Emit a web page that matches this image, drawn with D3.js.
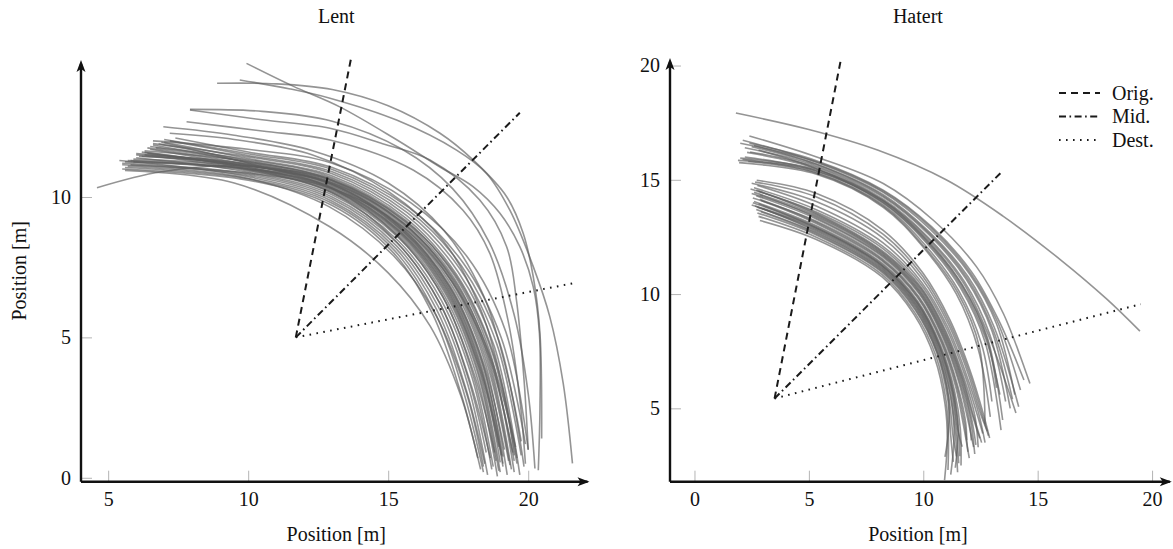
<!DOCTYPE html>
<html>
<head>
<meta charset="utf-8">
<script src="https://cdn.jsdelivr.net/npm/d3@7"></script>
<style>
    body { margin: 0; background: #fff; }
    svg text { font-family: "Liberation Serif", "DejaVu Serif", serif; fill: #111; }
</style>
</head>
<body>
<div id="chart"></div>
<script>
//---------------- data ----------------
const panelTitles = ["Lent", "Hatert"];
const axisLabel = "Position [m]";
const legendLabels = ["Orig.", "Mid.", "Dest."];

const lentTicksX = [5, 10, 15, 20];
const lentTicksY = [0, 5, 10];
const hatertTicksX = [0, 5, 10, 15, 20];
const hatertTicksY = [5, 10, 15, 20];

// rays from the fitted centre: orig, mid, dest
const lentRays = [
    [[11.7, 5.0], [13.67, 14.92]],
    [[11.7, 5.0], [19.7, 13.0]],
    [[11.7, 5.0], [21.67, 6.94]]
];
const hatertRays = [
    [[3.5, 5.43], [6.42, 20.37]],
    [[3.5, 5.43], [13.44, 15.36]],
    [[3.5, 5.43], [19.51, 9.56]]
];

// trajectories, Lent
const lentPaths = [
    [[4.6, 10.33], [6.9, 10.9], [10, 11.1], [13, 10.45], [15.5, 8.85], [17.2, 6.8], [18.4, 4.0], [19.1, 0.5]],
    [[5.6, 10.95], [9.5, 10.5], [12.9, 8.95], [15.0, 7.3], [16.5, 5.4], [17.6, 2.9], [18.2, 0.7]],
    [[5.7, 11.1], [9.8, 10.7], [12.9, 9.65], [15.2, 7.9], [16.7, 5.8], [17.8, 3.0], [18.4, 0.4]],
    [[5.5, 11.0], [10, 10.6], [13, 9.7], [15.2, 8.0], [16.6, 5.8], [17.6, 3.0], [18.3, 0.3]],
    [[5.6, 11.05], [10, 10.65], [13, 9.78], [15.23, 8.09], [16.66, 5.9], [17.68, 3.1], [18.4, 0.2]],
    [[5.4, 11.3], [10, 10.72], [13, 9.85], [15.26, 8.18], [16.72, 6.01], [17.76, 3.22], [18.45, 0.5]],
    [[5.8, 11.15], [10, 10.77], [13, 9.93], [15.29, 8.27], [16.78, 6.11], [17.84, 3.33], [18.55, 0.1]],
    [[5.5, 11.2], [10, 10.82], [13, 10.0], [15.32, 8.36], [16.84, 6.22], [17.92, 3.44], [18.65, 0.7]],
    [[6.0, 11.4], [10, 10.88], [13, 10.08], [15.35, 8.45], [16.9, 6.32], [18.0, 3.55], [18.7, 0.3]],
    [[5.7, 11.3], [10, 10.93], [13, 10.15], [15.38, 8.54], [16.96, 6.43], [18.08, 3.66], [18.8, 0.9]],
    [[6.3, 11.5], [10, 10.96], [13, 10.2], [15.4, 8.6], [17.0, 6.5], [18.13, 3.73], [18.9, 0.05]],
    [[5.9, 11.25], [10, 10.99], [13, 10.24], [15.42, 8.65], [17.04, 6.56], [18.18, 3.79], [18.85, 0.6]],
    [[6.2, 11.6], [10, 11.04], [13, 10.3], [15.44, 8.72], [17.08, 6.64], [18.24, 3.88], [19.0, 0.2]],
    [[6.5, 11.7], [10, 11.07], [13, 10.35], [15.46, 8.77], [17.12, 6.7], [18.28, 3.94], [19.05, 0.8]],
    [[6.1, 11.45], [10, 11.11], [13, 10.39], [15.48, 8.83], [17.16, 6.76], [18.32, 4.0], [19.1, 0.4]],
    [[6.4, 11.75], [10, 11.15], [13, 10.45], [15.5, 8.9], [17.2, 6.85], [18.4, 4.1], [19.15, 1.0]],
    [[6.0, 11.5], [10, 11.18], [13, 10.5], [15.52, 8.95], [17.24, 6.9], [18.44, 4.17], [19.25, 0.1]],
    [[6.6, 11.85], [10, 11.22], [13, 10.54], [15.54, 9.0], [17.28, 6.96], [18.48, 4.23], [19.3, 0.6]],
    [[6.3, 11.65], [10, 11.26], [13, 10.6], [15.56, 9.08], [17.32, 7.04], [18.56, 4.32], [19.4, 0.3]],
    [[6.8, 11.9], [10, 11.29], [13, 10.64], [15.58, 9.13], [17.36, 7.1], [18.6, 4.39], [19.45, 0.9]],
    [[6.5, 11.8], [10, 11.33], [13, 10.69], [15.6, 9.19], [17.4, 7.16], [18.64, 4.45], [19.5, 0.2]],
    [[7.0, 11.95], [10, 11.37], [13, 10.75], [15.62, 9.26], [17.44, 7.24], [18.72, 4.54], [19.6, 0.7]],
    [[6.6, 11.9], [10, 11.43], [13, 10.83], [15.65, 9.35], [17.5, 7.33], [18.8, 4.65], [19.7, 0.1]],
    [[7.2, 12.0], [10, 11.48], [13, 10.9], [15.68, 9.44], [17.56, 7.44], [18.88, 4.76], [19.75, 0.8]],
    [[7.0, 12.05], [10, 11.54], [13, 10.98], [15.71, 9.53], [17.62, 7.54], [18.96, 4.87], [19.85, 0.4]],
    [[7.4, 12.1], [10, 11.6], [13, 11.05], [15.74, 9.62], [17.68, 7.65], [19.04, 4.98], [19.9, 1.2]],
    [[6.6, 12.0], [10, 11.7], [13, 11.2], [15.8, 9.8], [17.8, 7.9], [19.2, 5.2], [20.0, 1.0]],
    [[5.5, 11.15], [10, 10.85], [13, 10.3], [15.5, 8.95], [17.3, 6.95], [18.6, 4.3], [19.5, 0.6]],
    [[6.9, 11.95], [10, 11.2], [13, 10.3], [15.35, 8.6], [16.95, 6.45], [18.05, 3.6], [18.75, 0.4]],
    [[5.6, 11.25], [10, 11.0], [13, 10.5], [15.55, 9.05], [17.35, 7.05], [18.62, 4.4], [19.55, 1.1]],
    [[6.4, 11.55], [10, 11.0], [13, 10.15], [15.3, 8.4], [16.85, 6.2], [17.9, 3.4], [18.5, 0.9]],
    [[5.9, 11.35], [10, 11.1], [13, 10.6], [15.6, 9.15], [17.42, 7.2], [18.7, 4.5], [19.6, 0.5]],
    [[6.2, 11.45], [10, 11.12], [13, 10.42], [15.47, 8.82], [17.15, 6.72], [18.3, 3.95], [19.0, 0.55]],
    [[5.8, 11.3], [10, 11.0], [13, 10.28], [15.43, 8.7], [17.06, 6.6], [18.2, 3.85], [18.95, 0.25]],
    [[6.7, 11.75], [10, 11.25], [13, 10.58], [15.55, 9.05], [17.3, 7.0], [18.52, 4.28], [19.35, 0.45]],
    [[6.0, 11.55], [10, 11.15], [13, 10.47], [15.5, 8.88], [17.18, 6.8], [18.36, 4.05], [19.1, 0.75]],
    [[6.3, 11.6], [10, 11.05], [13, 10.33], [15.45, 8.75], [17.1, 6.68], [18.26, 3.9], [18.95, 1.1]],
    [[8.89, 14.05], [11.0, 14.03], [13.0, 13.83], [15.0, 13.25], [16.85, 12.27], [18.03, 11.32], [19.23, 10.01], [19.82, 8.71], [20.18, 7.16], [20.42, 5.14], [20.48, 1.4]],
    [[9.7, 14.17], [11.5, 13.85], [12.92, 13.52], [15.3, 12.74], [17.44, 11.67], [18.51, 10.84], [19.35, 9.52], [20.18, 7.52], [20.77, 5.74], [21.25, 3.36], [21.58, 0.51]],
    [[9.94, 14.76], [11.6, 13.95], [13.27, 13.21], [15.2, 12.1], [16.85, 11.07], [18.03, 10.37], [18.99, 9.42], [19.7, 8.23], [20.18, 6.8], [20.4, 5.15], [20.42, 2.5], [20.36, 0.27]],
    [[7.92, 13.12], [10.5, 13.05], [13.0, 12.7], [15.5, 11.7], [17.3, 10.3], [18.6, 8.4], [19.5, 5.8], [20.0, 3.0], [20.24, 0.33]],
    [[7.92, 13.1], [10.5, 12.75], [12.92, 12.45], [14.8, 11.9], [16.49, 11.32], [18.27, 9.89], [19.23, 8.23], [19.58, 6.33], [19.85, 3.5], [20.0, 1.0]],
    [[7.8, 12.68], [10.5, 12.35], [12.92, 12.03], [15.89, 10.96], [17.67, 9.53], [18.63, 7.99], [19.3, 5.5], [19.7, 2.8], [19.9, 0.5]],
    [[6.97, 12.5], [9.5, 12.2], [12.3, 11.65], [15.0, 10.5], [17.0, 8.8], [18.4, 6.5], [19.3, 3.5], [19.75, 1.3]],
    [[7.2, 12.27], [9.5, 12.05], [12.3, 11.5], [15.0, 10.2], [17.0, 8.4], [18.3, 6.0], [19.1, 3.2], [19.5, 0.8]]
];

// trajectories, Hatert
const hatertPaths = [
    [[1.81, 17.92], [5.0, 17.2], [8.0, 16.3], [11.0, 15.0], [13.5, 13.4], [16.0, 11.5], [18.0, 9.8], [19.47, 8.38]],
    [[1.95, 15.75], [5.3, 15.25], [8.25, 13.8], [10.0, 12.05], [11.45, 10.0], [12.4, 7.6], [12.93, 4.63]],
    [[2.1, 15.9], [5.3, 15.33], [8.25, 13.9], [10.05, 12.18], [11.55, 10.15], [12.55, 7.8], [13.0, 5.3]],
    [[1.9, 15.85], [5.3, 15.4], [8.25, 13.98], [10.1, 12.28], [11.62, 10.28], [12.7, 7.9], [13.4, 4.05]],
    [[2.3, 16.2], [5.3, 15.5], [8.25, 14.08], [10.15, 12.4], [11.7, 10.42], [12.8, 8.1], [13.47, 4.49]],
    [[2.43, 16.22], [5.3, 15.56], [8.25, 14.15], [10.2, 12.5], [11.8, 10.54], [12.9, 8.25], [13.6, 5.3]],
    [[2.2, 16.4], [5.3, 15.62], [8.25, 14.25], [10.25, 12.6], [11.88, 10.65], [13.0, 8.4], [13.8, 5.0]],
    [[2.6, 16.5], [5.3, 15.7], [8.25, 14.35], [10.28, 12.7], [11.96, 10.76], [13.1, 8.55], [14.17, 5.07]],
    [[2.11, 16.73], [5.3, 15.78], [8.25, 14.45], [10.32, 12.82], [12.04, 10.86], [13.2, 8.7], [14.0, 5.6]],
    [[2.4, 16.6], [5.3, 15.85], [8.25, 14.55], [10.36, 12.95], [12.12, 10.96], [13.3, 8.85], [14.4, 6.24]],
    [[2.4, 16.92], [5.34, 16.0], [8.25, 14.84], [10.44, 13.23], [12.33, 11.19], [13.5, 9.15], [14.66, 6.09]],
    [[2.8, 16.3], [5.3, 15.5], [8.25, 14.0], [10.1, 12.35], [11.65, 10.35], [12.75, 8.0], [13.35, 5.6]],
    [[2.0, 15.95], [5.3, 15.45], [8.25, 14.1], [10.18, 12.45], [11.75, 10.5], [12.85, 8.2], [14.05, 4.8]],
    [[2.2, 16.0], [5.3, 15.4], [8.25, 14.05], [10.12, 12.38], [11.68, 10.4], [12.78, 8.05], [13.2, 5.9]],
    [[2.5, 16.45], [5.3, 15.68], [8.25, 14.3], [10.27, 12.65], [11.92, 10.7], [13.05, 8.45], [13.9, 5.4]],
    [[2.0, 16.6], [5.3, 15.8], [8.25, 14.5], [10.34, 12.9], [12.08, 10.9], [13.25, 8.78], [14.25, 5.8]],
    [[2.35, 15.8], [5.3, 15.3], [8.25, 13.85], [10.02, 12.1], [11.5, 10.08], [12.45, 7.7], [12.7, 4.3]],
    [[2.86, 13.22], [5.3, 12.4], [8.2, 10.75], [9.6, 9.1], [10.5, 7.2], [10.95, 5.2], [11.05, 3.6], [10.93, 1.86]],
    [[2.8, 13.4], [5.3, 12.5], [8.2, 10.85], [9.62, 9.2], [10.55, 7.3], [11.0, 5.3], [11.1, 3.7], [11.08, 2.3]],
    [[2.75, 13.55], [5.3, 12.6], [8.2, 10.95], [9.65, 9.3], [10.6, 7.4], [11.07, 5.4], [11.2, 3.8], [11.31, 2.66]],
    [[2.7, 13.7], [5.3, 12.7], [8.2, 11.05], [9.68, 9.4], [10.63, 7.45], [11.1, 5.5], [11.1, 4.0], [10.95, 2.88]],
    [[2.65, 13.85], [5.3, 12.8], [8.2, 11.15], [9.7, 9.5], [10.68, 7.55], [11.2, 5.6], [11.4, 3.9], [11.5, 2.2]],
    [[2.8, 13.95], [5.3, 12.9], [8.2, 11.25], [9.72, 9.6], [10.72, 7.65], [11.28, 5.7], [11.5, 4.1], [11.7, 3.32]],
    [[2.6, 14.05], [5.3, 13.0], [8.2, 11.35], [9.75, 9.7], [10.76, 7.75], [11.36, 5.8], [11.62, 4.1], [11.65, 2.5]],
    [[2.9, 14.1], [5.3, 13.1], [8.2, 11.45], [9.78, 9.8], [10.8, 7.85], [11.43, 5.9], [11.75, 4.3], [12.01, 2.82]],
    [[2.55, 14.2], [5.3, 13.2], [8.2, 11.55], [9.8, 9.9], [10.84, 7.95], [11.5, 6.0], [11.85, 4.4], [11.9, 3.6]],
    [[2.7, 14.3], [5.3, 13.3], [8.2, 11.65], [9.83, 10.0], [10.88, 8.05], [11.57, 6.1], [11.95, 4.5], [12.2, 3.3]],
    [[2.5, 14.4], [5.3, 13.4], [8.2, 11.75], [9.85, 10.1], [10.92, 8.15], [11.64, 6.2], [12.05, 4.6], [12.25, 3.0]],
    [[2.8, 14.5], [5.3, 13.5], [8.2, 11.85], [9.88, 10.2], [10.96, 8.25], [11.7, 6.3], [12.15, 4.7], [12.47, 3.69]],
    [[2.45, 14.6], [5.3, 13.6], [8.22, 12.0], [9.9, 10.3], [11.0, 8.35], [11.77, 6.35], [12.25, 4.7], [12.4, 3.3]],
    [[2.6, 14.65], [5.3, 13.7], [8.22, 12.1], [9.92, 10.4], [11.04, 8.45], [11.83, 6.42], [12.35, 4.75], [12.6, 3.9]],
    [[2.75, 14.75], [5.32, 13.85], [8.23, 12.25], [9.94, 10.5], [11.07, 8.55], [11.88, 6.48], [12.42, 4.78], [12.7, 3.5]],
    [[2.5, 14.85], [5.32, 14.05], [8.24, 12.45], [9.96, 10.65], [11.11, 8.66], [11.95, 6.55], [12.5, 4.78], [12.8, 4.0]],
    [[2.65, 14.9], [5.33, 14.25], [8.24, 12.62], [9.98, 10.78], [11.14, 8.76], [12.0, 6.6], [12.56, 4.78], [12.85, 3.8]],
    [[2.72, 14.98], [5.34, 14.4], [8.25, 12.79], [10.0, 10.9], [11.17, 8.86], [12.04, 6.67], [12.62, 4.78], [12.9, 3.7]],
    [[2.9, 13.6], [5.3, 12.65], [8.2, 11.0], [9.66, 9.35], [10.62, 7.42], [11.12, 5.45], [11.3, 3.8], [11.45, 2.9]],
    [[2.55, 14.0], [5.3, 12.95], [8.2, 11.3], [9.74, 9.65], [10.74, 7.7], [11.32, 5.75], [11.55, 4.0], [11.6, 2.9]],
    [[2.85, 14.35], [5.3, 13.35], [8.2, 11.7], [9.84, 10.05], [10.9, 8.1], [11.6, 6.15], [12.0, 4.5], [12.1, 3.6]],
    [[2.75, 13.8], [5.3, 12.85], [8.2, 11.2], [9.7, 9.55], [10.7, 7.6], [11.25, 5.65], [11.45, 4.0], [11.55, 2.6]],
    [[2.6, 14.45], [5.3, 13.45], [8.2, 11.8], [9.86, 10.15], [10.94, 8.2], [11.67, 6.25], [12.1, 4.6], [12.3, 3.4]],
    [[2.85, 14.15], [5.3, 13.15], [8.2, 11.5], [9.79, 9.85], [10.82, 7.9], [11.47, 5.95], [11.8, 4.35], [11.95, 3.1]],
    [[2.5, 13.9], [5.3, 12.9], [8.2, 11.25], [9.73, 9.62], [10.73, 7.67], [11.3, 5.72], [11.52, 4.05], [11.4, 2.4]],
    [[2.7, 14.55], [5.3, 13.55], [8.2, 11.9], [9.89, 10.25], [10.98, 8.3], [11.73, 6.32], [12.2, 4.65], [12.55, 3.5]],
    [[2.95, 13.75], [5.3, 12.75], [8.2, 11.1], [9.69, 9.45], [10.66, 7.5], [11.18, 5.55], [11.35, 3.9], [11.2, 2.1]]
];

//---------------- layout ----------------
const complete_width = 1173, complete_height = 549;
const fontSize = 20;
const rayDash = ["7,5", "7,3.5,1.6,3.5", "1.6,5.4"];

const svg = d3.select("#chart")
    .append("svg")
    .attr("width", complete_width)
    .attr("height", complete_height);

const panels = [
    {
        title: panelTitles[0], paths: lentPaths, rays: lentRays, ticksX: lentTicksX, ticksY: lentTicksY,
        x: d3.scaleLinear().domain([4.03, 22.26]).range([81, 591.5]),
        y: d3.scaleLinear().domain([-0.14, 14.88]).range([481.7, 60]),
        ylabel: true
    },
    {
        title: panelTitles[1], paths: hatertPaths, rays: hatertRays, ticksX: hatertTicksX, ticksY: hatertTicksY,
        x: d3.scaleLinear().domain([-1.07, 20.95]).range([670, 1173.8]),
        y: d3.scaleLinear().domain([1.79, 20.33]).range([481.7, 58]),
        ylabel: false
    }
];

//stealth-like arrow head, tip at origin pointing up
const arrowHead = "M0,0 L4.5,12 L0,9 L-4.5,12 Z";

panels.forEach((p, i) => {
    const g = svg.append("g");
    const [x0, x1] = p.x.range();
    const [y0, y1] = p.y.range();
    const line = d3.line()
        .x(d => p.x(d[0]))
        .y(d => p.y(d[1]))
        .curve(d3.curveCatmullRom.alpha(0.5));

    //axes (ticks pointing inward)
    const xAxis = g.append("g")
        .attr("transform", `translate(0,${y0})`)
        .call(d3.axisBottom(p.x).tickValues(p.ticksX).tickSize(-11).tickPadding(10));
    const yAxis = g.append("g")
        .attr("transform", `translate(${x0},0)`)
        .call(d3.axisLeft(p.y).tickValues(p.ticksY).tickSize(-11).tickPadding(10));
    [xAxis, yAxis].forEach(a => {
        a.select(".domain").remove();
        a.selectAll(".tick line").attr("stroke", "#b4b4b4").attr("stroke-width", 1);
        a.selectAll(".tick text")
            .style("font-family", "'Liberation Serif', serif")
            .style("font-size", fontSize + "px")
            .attr("fill", "#111");
    });

    //trajectories
    g.append("g")
        .selectAll("path")
        .data(p.paths)
        .join("path")
        .attr("d", line)
        .attr("fill", "none")
        .attr("stroke", "#5c5c5c")
        .attr("stroke-opacity", 0.66)
        .attr("stroke-width", 1.6);

    //orig / mid / dest rays
    g.append("g")
        .selectAll("path")
        .data(p.rays)
        .join("path")
        .attr("d", d3.line().x(d => p.x(d[0])).y(d => p.y(d[1])))
        .attr("fill", "none")
        .attr("stroke", "#1a1a1a")
        .attr("stroke-width", 2)
        .attr("stroke-dasharray", (d, k) => rayDash[k]);

    //axis lines with arrows
    g.append("line")
        .attr("x1", x0).attr("y1", y0).attr("x2", x1 - 4).attr("y2", y0)
        .attr("stroke", "#111").attr("stroke-width", 2.4);
    g.append("line")
        .attr("x1", x0).attr("y1", y0).attr("x2", x0).attr("y2", y1 + 4)
        .attr("stroke", "#111").attr("stroke-width", 2.4);
    g.append("path")
        .attr("d", arrowHead)
        .attr("transform", `translate(${x0},${y1})`)
        .attr("fill", "#111");
    g.append("path")
        .attr("d", arrowHead)
        .attr("transform", `translate(${x1 - 2},${y0}) rotate(90)`)
        .attr("fill", "#111");

    //titles and labels
    g.append("text")
        .attr("x", (x0 + x1) / 2 - (i ? 4 : 0))
        .attr("y", 23)
        .attr("text-anchor", "middle")
        .style("font-size", fontSize + "px")
        .text(p.title);
    g.append("text")
        .attr("x", (x0 + x1) / 2 - (i ? 4 : 0))
        .attr("y", 541)
        .attr("text-anchor", "middle")
        .style("font-size", fontSize + "px")
        .text(axisLabel);
    if (p.ylabel) {
        g.append("text")
            .attr("transform", `translate(26,${(y0 + y1) / 2}) rotate(-90)`)
            .attr("text-anchor", "middle")
            .style("font-size", fontSize + "px")
            .text(axisLabel);
    }
});

//legend
const legend = svg.append("g").attr("transform", "translate(1059,93)");
const legendRow = legend.selectAll("g")
    .data(legendLabels)
    .join("g")
    .attr("transform", (d, k) => `translate(0,${k * 23.5})`);
legendRow.append("line")
    .attr("x1", 0).attr("x2", 41).attr("y1", 0).attr("y2", 0)
    .attr("stroke", "#1a1a1a")
    .attr("stroke-width", 2)
    .attr("stroke-dasharray", (d, k) => rayDash[k]);
legendRow.append("text")
    .attr("x", 53)
    .attr("y", 6.5)
    .style("font-size", fontSize + "px")
    .text(d => d);
</script>
</body>
</html>
